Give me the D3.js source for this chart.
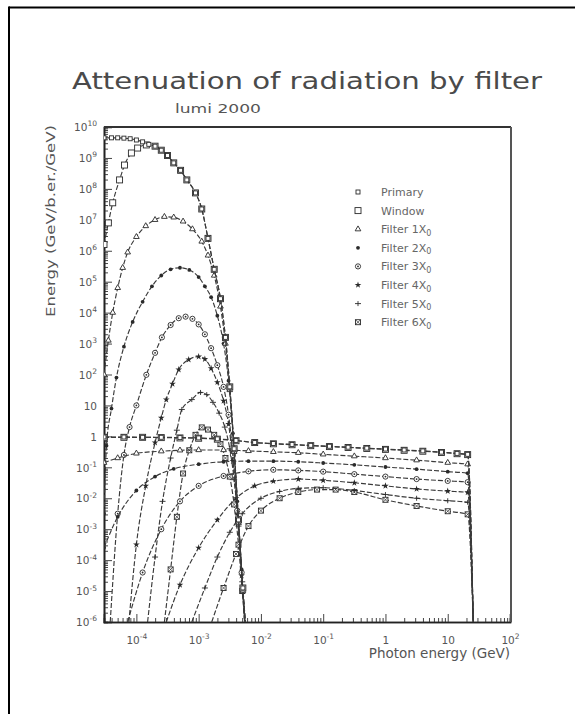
<!DOCTYPE html>
<html><head><meta charset="utf-8">
<script src="https://cdn.jsdelivr.net/npm/d3@7"></script>
<style>body{margin:0;background:#fff}svg{display:block}</style>
</head><body>
<svg id="c" width="575" height="714"></svg>
<script>
// ---------- DATA (log10 of photon energy [GeV], log10 of energy density) ----------
const seriesNames = ["Primary", "Window", "Filter 1X", "Filter 2X", "Filter 3X", "Filter 4X", "Filter 5X", "Filter 6X"];
const seriesSubs  = ["", "", "0", "0", "0", "0", "0", "0"];
const seriesSymbols = ["smallSquare", "square", "triangle", "dot", "circleDot", "star", "plus", "squareX"];

// synchrotron (low-energy) part of each spectrum
const primarySynch = [[-4.52,9.65],[-4.4,9.65],[-4.3,9.65],[-4.2,9.64],[-4.1,9.62],[-4.0,9.58],[-3.9,9.52],[-3.8,9.44],[-3.7,9.38],[-3.6,9.25],[-3.5,9.08],[-3.4,8.84],[-3.29,8.6],[-3.19,8.29],[-3.05,7.87],[-2.95,7.35],[-2.85,6.4],[-2.75,5.4],[-2.65,4.45],[-2.57,3.2],[-2.5,1.6],[-2.43,-0.4],[-2.36,-2.7],[-2.29,-4.9],[-2.25,-6]];
const windowSynch = [[-4.52,6.2],[-4.45,6.9],[-4.38,7.55],[-4.27,8.29],[-4.19,8.77],[-4.08,9.16],[-3.98,9.32],[-3.84,9.42],[-3.7,9.38],[-3.6,9.25],[-3.5,9.08],[-3.4,8.84],[-3.29,8.6],[-3.19,8.29],[-3.05,7.87],[-2.95,7.35],[-2.85,6.4],[-2.75,5.4],[-2.65,4.45],[-2.57,3.2],[-2.5,1.6],[-2.43,-0.4],[-2.36,-2.7],[-2.29,-4.9],[-2.25,-6]];
const filter1Synch = [[-4.52,2.0],[-4.45,3.1],[-4.38,4.0],[-4.3,4.8],[-4.22,5.45],[-4.14,5.95],[-4.0,6.45],[-3.85,6.8],[-3.7,7.0],[-3.55,7.1],[-3.4,7.08],[-3.25,6.95],[-3.1,6.7],[-2.95,6.3],[-2.85,5.85],[-2.75,5.2],[-2.65,4.2],[-2.57,3.0],[-2.5,1.5],[-2.43,-0.5],[-2.36,-2.8],[-2.29,-5.0],[-2.25,-6]];
const filter2Synch = [[-4.52,-2.5],[-4.48,-0.3],[-4.4,0.9],[-4.32,1.9],[-4.2,2.9],[-4.06,3.7],[-3.9,4.35],[-3.75,4.85],[-3.6,5.2],[-3.45,5.4],[-3.3,5.45],[-3.15,5.38],[-3.0,5.15],[-2.9,4.85],[-2.8,4.5],[-2.7,3.9],[-2.6,3.0],[-2.52,1.8],[-2.45,0.1],[-2.38,-2.1],[-2.31,-4.3],[-2.26,-6]];
const filter3Synch = [[-4.42,-6],[-4.3,-2.5],[-4.2,-0.6],[-4.11,0.3],[-4.0,1.0],[-3.84,1.99],[-3.7,2.7],[-3.59,3.2],[-3.45,3.6],[-3.32,3.82],[-3.21,3.87],[-3.1,3.8],[-3.0,3.62],[-2.9,3.3],[-2.8,2.85],[-2.7,2.3],[-2.6,1.6],[-2.52,0.7],[-2.45,-0.6],[-2.38,-2.4],[-2.31,-4.4],[-2.26,-6]];
const filter4Synch = [[-4.12,-6],[-4.0,-3.5],[-3.85,-1.6],[-3.7,-0.2],[-3.6,0.6],[-3.52,1.19],[-3.42,1.7],[-3.32,2.16],[-3.16,2.48],[-3.0,2.58],[-2.9,2.5],[-2.8,2.2],[-2.7,1.75],[-2.6,1.15],[-2.52,0.4],[-2.45,-0.8],[-2.38,-2.5],[-2.31,-4.5],[-2.26,-6]];
const filter5Synch = [[-3.82,-6],[-3.7,-3.9],[-3.58,-2.1],[-3.45,-0.7],[-3.35,0.2],[-3.27,0.87],[-3.11,1.19],[-2.97,1.42],[-2.87,1.35],[-2.77,1.1],[-2.67,0.75],[-2.58,0.3],[-2.5,-0.4],[-2.43,-1.4],[-2.36,-2.9],[-2.3,-4.7],[-2.26,-6]];
const filter6Synch = [[-3.55,-6],[-3.45,-4.3],[-3.35,-2.6],[-3.25,-1.2],[-3.15,-0.45],[-3.05,0.05],[-2.95,0.29],[-2.85,0.22],[-2.75,0.05],[-2.65,-0.25],[-2.57,-0.7],[-2.5,-1.3],[-2.43,-2.2],[-2.36,-3.5],[-2.3,-5.0],[-2.26,-6]];

// bremsstrahlung (high-energy) part of each spectrum
const primaryBrems = [[-4.52,-0.02],[-4.2,-0.02],[-3.9,-0.03],[-3.6,-0.03],[-3.3,-0.04],[-3.0,-0.05],[-2.7,-0.08],[-2.4,-0.13],[-2.1,-0.2],[-1.8,-0.23],[-1.5,-0.26],[-1.2,-0.29],[-0.9,-0.32],[-0.6,-0.35],[-0.3,-0.38],[0,-0.41],[0.3,-0.44],[0.6,-0.47],[0.9,-0.51],[1.15,-0.55],[1.32,-0.58],[1.41,-6]];
const windowBrems  = [[-4.52,-0.03],[-4.2,-0.03],[-3.9,-0.03],[-3.6,-0.04],[-3.3,-0.05],[-3.0,-0.06],[-2.7,-0.09],[-2.4,-0.14],[-2.1,-0.2],[-1.8,-0.24],[-1.5,-0.27],[-1.2,-0.3],[-0.9,-0.33],[-0.6,-0.36],[-0.3,-0.39],[0,-0.42],[0.3,-0.45],[0.6,-0.48],[0.9,-0.52],[1.15,-0.56],[1.32,-0.59],[1.41,-6]];
const filter1Brems = [[-4.52,-0.85],[-4.3,-0.7],[-4.0,-0.55],[-3.6,-0.48],[-3.3,-0.45],[-3.0,-0.44],[-2.6,-0.44],[-2.2,-0.47],[-1.8,-0.5],[-1.4,-0.53],[-1.0,-0.58],[-0.5,-0.64],[0,-0.7],[0.5,-0.77],[1.0,-0.85],[1.32,-0.9],[1.41,-6]];
const filter2Brems = [[-4.52,-3.6],[-4.3,-2.6],[-4.0,-1.75],[-3.7,-1.3],[-3.4,-1.05],[-3.0,-0.9],[-2.6,-0.82],[-2.2,-0.8],[-1.8,-0.8],[-1.4,-0.82],[-1.0,-0.86],[-0.5,-0.92],[0,-0.99],[0.5,-1.06],[1.0,-1.14],[1.32,-1.19],[1.41,-6]];
const filter3Brems = [[-4.14,-6],[-3.9,-4.4],[-3.6,-3.0],[-3.3,-2.1],[-3.0,-1.6],[-2.6,-1.28],[-2.2,-1.13],[-1.8,-1.08],[-1.4,-1.1],[-1.0,-1.14],[-0.5,-1.22],[0,-1.3],[0.5,-1.38],[1.0,-1.44],[1.32,-1.48],[1.41,-6]];
const filter4Brems = [[-3.52,-6],[-3.3,-4.8],[-3.0,-3.6],[-2.7,-2.7],[-2.4,-2.0],[-2.1,-1.6],[-1.8,-1.45],[-1.4,-1.38],[-1.0,-1.42],[-0.5,-1.5],[0,-1.6],[0.5,-1.7],[1.0,-1.77],[1.32,-1.81],[1.41,-6]];
const filter5Brems = [[-3.11,-6],[-2.9,-4.9],[-2.7,-3.9],[-2.5,-3.1],[-2.3,-2.5],[-2.0,-2.0],[-1.7,-1.78],[-1.4,-1.68],[-1.0,-1.66],[-0.5,-1.75],[0,-1.88],[0.5,-2.0],[1.0,-2.08],[1.32,-2.13],[1.41,-6]];
const filter6Brems = [[-2.79,-6],[-2.6,-4.9],[-2.4,-3.8],[-2.2,-2.9],[-2.0,-2.4],[-1.7,-2.0],[-1.4,-1.8],[-1.1,-1.72],[-0.8,-1.72],[-0.5,-1.8],[0,-2.05],[0.5,-2.25],[1.0,-2.42],[1.32,-2.52],[1.41,-6]];

const synchParts = [primarySynch, windowSynch, filter1Synch, filter2Synch, filter3Synch, filter4Synch, filter5Synch, filter6Synch];
const bremsParts = [primaryBrems, windowBrems, filter1Brems, filter2Brems, filter3Brems, filter4Brems, filter5Brems, filter6Brems];

// axes
const xDomainExp = [-4.52, 2];
const yDomainExp = [-6, 10];
const xTickExps = [-4, -3, -2, -1, 0, 1, 2];
const yTickExps = [10, 9, 8, 7, 6, 5, 4, 3, 2, 1, 0, -1, -2, -3, -4, -5, -6];

const titleText = "Attenuation of radiation by filter";
const subtitleText = "lumi 2000";
const xTitle = "Photon energy (GeV)";
const yTitle = "Energy (GeV/b.er./GeV)";

// ---------- DRAW ----------
const svg = d3.select("#c");
const FONT = "'DejaVu Sans', 'Liberation Sans', sans-serif";
const m = {left: 104, right: 510, top: 127, bottom: 622};
const x = d3.scaleLog().domain(xDomainExp.map(e => 10 ** e)).range([m.left, m.right]);
const y = d3.scaleLog().domain(yDomainExp.map(e => 10 ** e)).range([m.bottom, m.top]);

// page border
svg.append("line").attr("x1", 9).attr("x2", 575).attr("y1", 7.5).attr("y2", 7.5).attr("stroke", "#000").attr("stroke-width", 2);
svg.append("line").attr("x1", 9).attr("x2", 9).attr("y1", 6.5).attr("y2", 714).attr("stroke", "#000").attr("stroke-width", 2);

// title
svg.append("text").attr("x", 72).attr("y", 89).attr("textLength", 470).attr("lengthAdjust", "spacingAndGlyphs")
  .attr("font-family", FONT).attr("font-size", 23).attr("fill", "#4a4a4a").text(titleText);
svg.append("text").attr("x", 175).attr("y", 113).attr("textLength", 86).attr("lengthAdjust", "spacingAndGlyphs")
  .attr("font-family", FONT).attr("font-size", 13).attr("fill", "#555").text(subtitleText);

// minor tick values
const minor = (exps) => {
  const out = [];
  for (let e = Math.floor(exps[0]); e < exps[1]; e++) for (let k = 2; k <= 9; k++) {
    const v = k * 10 ** e;
    if (v >= 10 ** exps[0] && v <= 10 ** exps[1]) out.push(v);
  }
  return out;
};

const axisG = svg.append("g").attr("stroke-width", 1);
const yMinor = d3.axisLeft(y).tickValues(minor(yDomainExp)).tickSize(-4).tickFormat("");
const yMajor = d3.axisLeft(y).tickValues(yTickExps.map(e => 10 ** e)).tickSize(-8).tickFormat("");
const gyMin = axisG.append("g").attr("transform", `translate(${m.left},0)`).call(yMinor);
const gy = axisG.append("g").attr("transform", `translate(${m.left},0)`).call(yMajor);
const xMinor = d3.axisBottom(x).tickValues(minor(xDomainExp)).tickSize(-4).tickFormat("");
const xMajor = d3.axisBottom(x).tickValues(xTickExps.map(e => 10 ** e)).tickSize(-8).tickFormat("");
const gxMin = axisG.append("g").attr("transform", `translate(0,${m.bottom})`).call(xMinor);
const gx = axisG.append("g").attr("transform", `translate(0,${m.bottom})`).call(xMajor);
[gyMin, gy, gxMin, gx].forEach(g => { g.selectAll("line").attr("stroke", "#444"); g.select(".domain").attr("stroke", "#222").attr("stroke-width", 1.6); });

function expLabel(sel, e, size) {
  if (e === 0) { sel.text("1"); return; }
  if (e === 1) { sel.text("10"); return; }
  sel.append("tspan").text("10");
  sel.append("tspan").attr("dy", -size * 0.45).attr("font-size", size * 0.72).text(e < 0 ? "-" + (-e) : String(e));
}
gy.selectAll(".tick").each(function(d, i) {
  const e = yTickExps[i];
  const t = d3.select(this).append("text").attr("x", -7).attr("dy", "0.35em").attr("text-anchor", "end")
    .attr("fill", "#555").attr("font-family", FONT).attr("font-size", 10.5);
  expLabel(t, e, 10.5);
});
gx.selectAll(".tick").each(function(d, i) {
  const e = xTickExps[i];
  const t = d3.select(this).append("text").attr("y", 22).attr("text-anchor", "middle")
    .attr("fill", "#555").attr("font-family", FONT).attr("font-size", 10.5);
  expLabel(t, e, 10.5);
});

// frame top and right
svg.append("line").attr("x1", m.left).attr("x2", m.right + 1).attr("y1", m.top).attr("y2", m.top).attr("stroke", "#333").attr("stroke-width", 2);
svg.append("line").attr("x1", m.right + 1).attr("x2", m.right + 1).attr("y1", m.top).attr("y2", m.bottom).attr("stroke", "#555").attr("stroke-width", 2);

// axis titles
svg.append("text").attr("x", 510).attr("y", 658).attr("text-anchor", "end")
  .attr("font-family", FONT).attr("font-size", 13.5).attr("fill", "#555").text(xTitle);
svg.append("text").attr("transform", "translate(55,125) rotate(-90)").attr("text-anchor", "end")
  .attr("textLength", 192).attr("lengthAdjust", "spacingAndGlyphs")
  .attr("font-family", FONT).attr("font-size", 13).attr("fill", "#555").text(yTitle);

// clip
svg.append("clipPath").attr("id", "clip").append("rect")
  .attr("x", m.left).attr("y", m.top).attr("width", m.right - m.left).attr("height", m.bottom - m.top);
const plot = svg.append("g").attr("clip-path", "url(#clip)");

const line = d3.line().x(d => x(10 ** d[0])).y(d => y(10 ** d[1])).curve(d3.curveMonotoneX);

function drawSymbol(g, type, cx, cy) {
  const c = "#2a2a2a";
  const sw = 0.9;
  switch (type) {
    case "smallSquare":
      g.append("rect").attr("x", cx - 2).attr("y", cy - 2).attr("width", 4).attr("height", 4).attr("fill", "#fff").attr("stroke", c).attr("stroke-width", sw); break;
    case "square":
      g.append("rect").attr("x", cx - 3).attr("y", cy - 3).attr("width", 6).attr("height", 6).attr("fill", "#fff").attr("stroke", c).attr("stroke-width", sw); break;
    case "triangle":
      g.append("path").attr("d", d3.symbol(d3.symbolTriangle, 14)()).attr("transform", `translate(${cx},${cy})`).attr("fill", "#fff").attr("stroke", c).attr("stroke-width", sw); break;
    case "dot":
      g.append("circle").attr("cx", cx).attr("cy", cy).attr("r", 1.9).attr("fill", c); break;
    case "circleDot":
      g.append("circle").attr("cx", cx).attr("cy", cy).attr("r", 2.6).attr("fill", "#fff").attr("stroke", c).attr("stroke-width", sw);
      g.append("circle").attr("cx", cx).attr("cy", cy).attr("r", 0.9).attr("fill", c); break;
    case "star":
      g.append("path").attr("d", d3.symbol(d3.symbolStar, 14)()).attr("transform", `translate(${cx},${cy})`).attr("fill", c); break;
    case "plus":
      g.append("path").attr("d", `M${cx - 3},${cy}H${cx + 3}M${cx},${cy - 2.5}V${cy + 2.5}`).attr("stroke", c).attr("stroke-width", sw); break;
    case "squareX":
      g.append("rect").attr("x", cx - 2.5).attr("y", cy - 2.5).attr("width", 5).attr("height", 5).attr("fill", "#fff").attr("stroke", c).attr("stroke-width", sw);
      g.append("path").attr("d", `M${cx - 2.5},${cy - 2.5}L${cx + 2.5},${cy + 2.5}M${cx + 2.5},${cy - 2.5}L${cx - 2.5},${cy + 2.5}`).attr("stroke", c).attr("stroke-width", 0.7); break;
  }
}

for (let i = seriesNames.length - 1; i >= 0; i--) {
  const g = plot.append("g");
  [synchParts[i], bremsParts[i]].forEach(part => {
    g.append("path").datum(part).attr("d", line).attr("fill", "none").attr("stroke", "#3a3a3a")
      .attr("stroke-width", 1.15).attr("stroke-dasharray", "5,2");
  });
  [synchParts[i], bremsParts[i]].forEach(part => {
    part.forEach(d => {
      if (d[1] > yDomainExp[0] + 0.05) drawSymbol(g, seriesSymbols[i], x(10 ** d[0]), y(10 ** d[1]));
    });
  });
}

// legend
const leg = svg.append("g");
seriesNames.forEach((name, i) => {
  const ly = 192 + i * 18.6;
  drawSymbol(leg, seriesSymbols[i], 358, ly);
  const t = leg.append("text").attr("x", 381).attr("y", ly + 4).attr("font-family", FONT).attr("font-size", 11).attr("fill", "#666").text(name);
  if (seriesSubs[i]) t.append("tspan").attr("dy", 2.5).attr("font-size", 8).text(seriesSubs[i]);
});
</script>
</body></html>
